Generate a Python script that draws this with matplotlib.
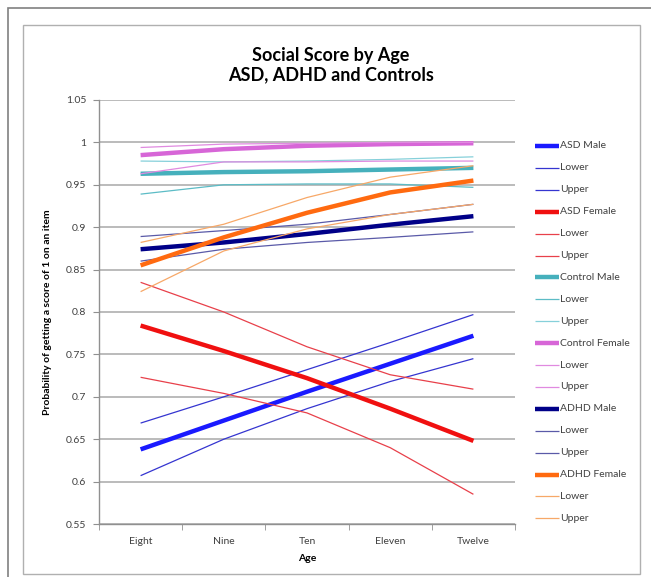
import matplotlib
matplotlib.use("Agg")
import matplotlib.pyplot as plt
from matplotlib.lines import Line2D
from matplotlib.patches import Rectangle

plt.rcParams['font.family'] = ['Lato', 'DejaVu Sans']

ages = ["Eight", "Nine", "Ten", "Eleven", "Twelve"]

asd_male = [0.638, 0.672, 0.706, 0.739, 0.772]
asd_male_lo = [0.607, 0.650, 0.686, 0.718, 0.745]
asd_male_hi = [0.669, 0.700, 0.732, 0.764, 0.797]

asd_female = [0.784, 0.754, 0.722, 0.686, 0.648]
asd_female_lo = [0.723, 0.704, 0.681, 0.640, 0.585]
asd_female_hi = [0.835, 0.800, 0.759, 0.726, 0.709]

control_male = [0.963, 0.965, 0.966, 0.968, 0.970]
control_male_lo = [0.939, 0.950, 0.951, 0.951, 0.947]
control_male_hi = [0.978, 0.977, 0.978, 0.980, 0.983]

control_female = [0.985, 0.992, 0.996, 0.998, 0.999]
control_female_lo = [0.963, 0.977, 0.977, 0.978, 0.978]
control_female_hi = [0.994, 0.998, 0.999, 1.000, 1.000]

adhd_male = [0.874, 0.882, 0.892, 0.903, 0.913]
adhd_male_lo = [0.860, 0.874, 0.882, 0.888, 0.8945]
adhd_male_hi = [0.889, 0.896, 0.9035, 0.915, 0.927]

adhd_female = [0.855, 0.888, 0.917, 0.941, 0.955]
adhd_female_lo = [0.824, 0.872, 0.898, 0.915, 0.927]
adhd_female_hi = [0.882, 0.9035, 0.935, 0.959, 0.9725]

y_ticks = [0.55, 0.6, 0.65, 0.7, 0.75, 0.8, 0.85, 0.9, 0.95, 1.0, 1.05]
y_tick_labels = ["0.55", "0.6", "0.65", "0.7", "0.75", "0.8", "0.85", "0.9", "0.95", "1", "1.05"]

# (label, values, colour, linewidth)
series = [
    ("ASD Male", asd_male, "#1a1aff", 3.2),
    ("Lower", asd_male_lo, "#3535d0", 0.9),
    ("Upper", asd_male_hi, "#3535d0", 0.9),
    ("ASD Female", asd_female, "#f01010", 3.2),
    ("Lower", asd_female_lo, "#e8404a", 0.9),
    ("Upper", asd_female_hi, "#e8404a", 0.9),
    ("Control Male", control_male, "#46b0bc", 3.2),
    ("Lower", control_male_lo, "#5cbcc6", 0.9),
    ("Upper", control_male_hi, "#86d0da", 0.9),
    ("Control Female", control_female, "#d766d7", 3.2),
    ("Lower", control_female_lo, "#e08ae0", 0.9),
    ("Upper", control_female_hi, "#e08ae0", 0.9),
    ("ADHD Male", adhd_male, "#000088", 3.2),
    ("Lower", adhd_male_lo, "#5a5aa8", 0.9),
    ("Upper", adhd_male_hi, "#5a5aa8", 0.9),
    ("ADHD Female", adhd_female, "#ff6a10", 3.2),
    ("Lower", adhd_female_lo, "#f7a868", 0.9),
    ("Upper", adhd_female_hi, "#f7a868", 0.9),
]

W, H = 651, 577
fig = plt.figure(figsize=(W / 100, H / 100), dpi=100)

# chart frames
fig.add_artist(Rectangle((8 / W, -0.1), 1.2, 1 - 8 / H + 0.1, transform=fig.transFigure,
                         fill=False, edgecolor="#808080", lw=1.2))
fig.add_artist(Rectangle((23 / W, 1 - 574 / H), (640 - 23) / W, (574 - 25) / H,
                         transform=fig.transFigure, fill=False, edgecolor="#b0b0b0", lw=1.0))

left, right, top, bottom = 99, 515, 100, 524
ax = fig.add_axes([left / W, 1 - bottom / H, (right - left) / W, (bottom - top) / H])

x = list(range(len(ages)))
for label, vals, color, lw in series:
    ax.plot(x, vals, color=color, lw=lw, solid_capstyle="butt")

ax.set_xlim(-0.5, len(ages) - 0.5)
ax.set_ylim(0.55, 1.05)
ax.set_yticks(y_ticks)
ax.set_yticklabels(y_tick_labels)
ax.set_xticks(x)
ax.set_xticklabels(ages)
ax.set_xticks([i - 0.5 for i in range(len(ages) + 1)], minor=True)
ax.tick_params(axis="x", which="major", length=0, pad=9, labelsize=7.5, labelcolor="#404040")
ax.tick_params(axis="x", which="minor", length=4, color="#909090", direction="out")
ax.tick_params(axis="y", length=4, color="#909090", direction="out", labelsize=7.5,
               labelcolor="#404040", pad=5)
ax.grid(axis="y", color="#a8a8a8", lw=1.1)
ax.set_axisbelow(True)
for s in ["top", "right"]:
    ax.spines[s].set_visible(False)
for s in ["left", "bottom"]:
    ax.spines[s].set_color("#909090")
    ax.spines[s].set_linewidth(1.0)

ax.set_xlabel("Age", fontsize=7.5, fontweight="bold", labelpad=6)
ax.set_ylabel("Probability of getting a score of 1 on an item", fontsize=7.5,
              fontweight="bold", labelpad=10)

fig.text(331 / W, 1 - 55 / H, "Social Score by Age", ha="center", va="center",
         fontsize=13, fontweight="bold")
fig.text(331 / W, 1 - 75 / H, "ASD, ADHD and Controls", ha="center", va="center",
         fontsize=13, fontweight="bold")

# legend entries
y0, dy = 146, 21.9
for i, (label, vals, color, lw) in enumerate(series):
    yy = 1 - (y0 + i * dy) / H
    fig.add_artist(Line2D([535 / W, 559 / W], [yy, yy], transform=fig.transFigure,
                          color=color, lw=lw, solid_capstyle="butt"))
    fig.text(560 / W, yy, label, ha="left", va="center", fontsize=7.5, color="#404040")

fig.savefig("out.png", dpi=100)
